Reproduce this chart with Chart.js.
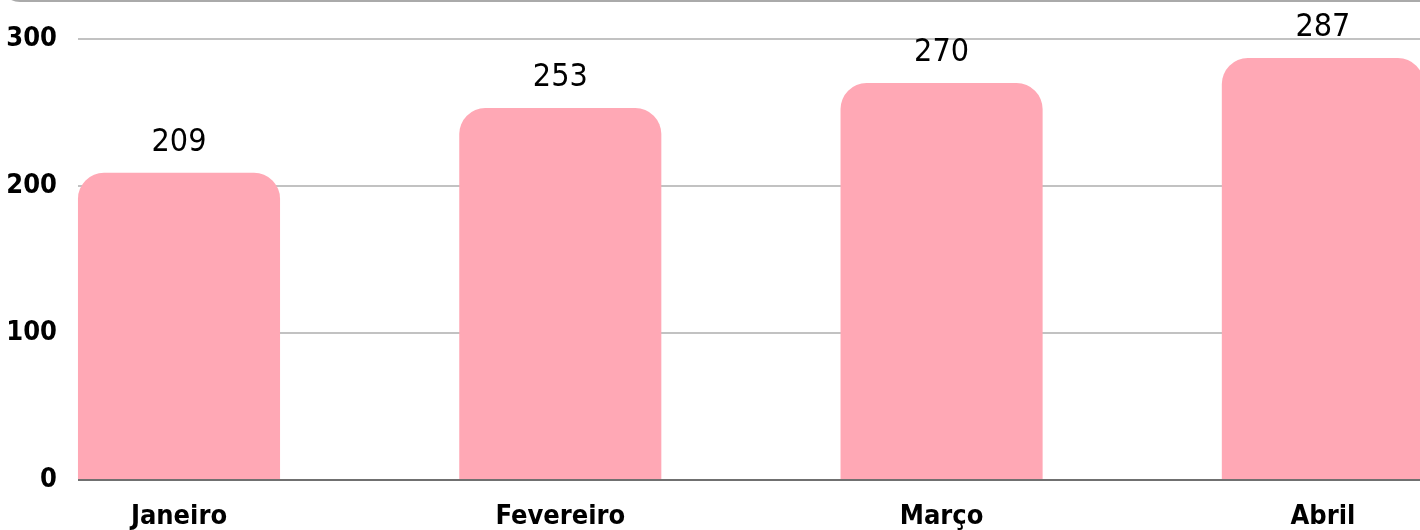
<!DOCTYPE html>
<html>
<head>
<meta charset="utf-8">
<script src="https://cdn.jsdelivr.net/npm/chart.js@4"></script>
<style>
  html, body { margin: 0; padding: 0; background: #fff; overflow: hidden; }
  #wrap { position: relative; width: 1420px; height: 530px; overflow: hidden; }
  #frame {
    position: absolute; left: 0; top: -38px; width: 1460px; height: 40px;
    border: 3px solid #aaaaaa; border-radius: 28px; box-sizing: border-box;
  }
  #chart { position: absolute; left: 0; top: 0; }
</style>
</head>
<body>
<div id="wrap">
  <div id="frame"></div>
  <canvas id="chart" width="1440" height="530"></canvas>
</div>
<script>
// Data
const months = ['Janeiro', 'Fevereiro', 'Março', 'Abril'];
const totals = [209, 253, 270, 287];
const yTicks = [0, 100, 200, 300];

const narrow = "'DejaVu Sans Condensed', 'Liberation Sans Narrow', 'DejaVu Sans', sans-serif";

// condensed faces for all chart text
const condensed = {
    id: 'condensed',
    beforeDraw(chart) { chart.ctx.fontStretch = 'condensed'; }
};

// Draw value labels above each bar
const valueLabels = {
    id: 'valueLabels',
    afterDatasetsDraw(chart) {
        const ctx = chart.ctx;
        const meta = chart.getDatasetMeta(0);
        ctx.save();
        ctx.fontStretch = 'condensed';
        ctx.font = '32px ' + narrow;
        ctx.fillStyle = '#000';
        ctx.textAlign = 'center';
        ctx.textBaseline = 'alphabetic';
        meta.data.forEach((bar, i) => {
            ctx.fillText(String(totals[i]), bar.x, bar.y - 22);
        });
        ctx.restore();
    }
};

const ctx = document.getElementById('chart').getContext('2d');
new Chart(ctx, {
    type: 'bar',
    data: {
        datasets: [{
            data: months.map((m, i) => ({ x: i, y: totals[i] })),
            backgroundColor: 'rgb(255, 168, 181)',
            borderWidth: 0,
            borderRadius: { topLeft: 26, topRight: 26, bottomLeft: 0, bottomRight: 0 },
            borderSkipped: false,
            barPercentage: 0.53,
            categoryPercentage: 1
        }]
    },
    options: {
        responsive: false,
        animation: false,
        devicePixelRatio: 1,
        clip: false,
        layout: { padding: { top: 39, right: 10, left: 0, bottom: 0 } },
        plugins: {
            legend: { display: false },
            tooltip: { enabled: false }
        },
        scales: {
            x: {
                type: 'linear',
                offset: false,
                min: -0.2649,
                max: 3.281,
                grid: { display: false },
                border: { display: false },
                afterBuildTicks: s => { s.ticks = months.map((m, i) => ({ value: i })); },
                afterFit: s => { s.height = 50; },
                ticks: {
                    autoSkip: false,
                    maxRotation: 0,
                    padding: 13,
                    color: '#000',
                    font: { family: narrow, size: 27, weight: 'bold' },
                    callback: v => months[v] ?? ''
                }
            },
            y: {
                min: 0,
                max: 300,
                afterBuildTicks: s => { s.ticks = yTicks.map(v => ({ value: v })); },
                afterFit: s => { s.width = 78; },
                border: { display: false },
                grid: {
                    drawTicks: false,
                    lineWidth: 2,
                    color: c => c.tick && c.tick.value === 0 ? '#707070' : '#c2c2c2'
                },
                ticks: {
                    padding: 21,
                    color: '#000',
                    font: { family: narrow, size: 27, weight: 'bold' }
                }
            }
        }
    },
    plugins: [condensed, valueLabels]
});
</script>
</body>
</html>
